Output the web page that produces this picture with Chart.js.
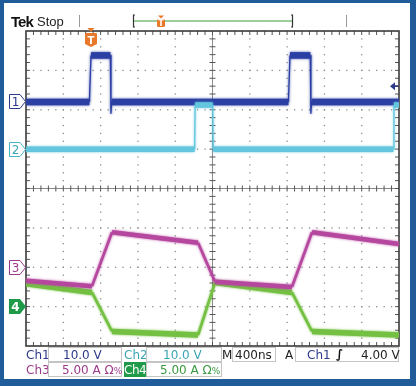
<!DOCTYPE html>
<html>
<head>
<meta charset="utf-8">
<script src="https://cdn.jsdelivr.net/npm/chart.js@4/dist/chart.umd.min.js"></script>
<style>
  html, body { margin: 0; padding: 0; background: #fff; }
  #wrap { position: relative; width: 416px; height: 386px; overflow: hidden; font-family: "DejaVu Sans", sans-serif; }
  #scope { position: absolute; left: 0; top: 0; }
  #frame { position: absolute; left: 0; top: 0; width: 416px; height: 386px; box-sizing: border-box;
           border: solid #1f5c99; border-width: 3px 6px 7px 4px; pointer-events: none; }
  .t { position: absolute; white-space: nowrap; line-height: 1; font-size: 12px; }
  .box { position: absolute; box-sizing: border-box; border: 1px solid #c4c4c4; background: #fff; }
  .mark { position: absolute; left: 9px; }
</style>
</head>
<body>
<div id="wrap">
  <canvas id="scope" width="416" height="386"></canvas>

  <!-- header -->
  <div class="t" style="left:11px;top:13px;font:bold 15px 'Liberation Sans';letter-spacing:-1px;color:#111">Tek</div>
  <div class="t" style="left:37px;top:14px;font:13px 'Liberation Sans';color:#222">Stop</div>
  <svg style="position:absolute;left:0;top:0" width="416" height="30">
    <line x1="79.5" y1="15" x2="79.5" y2="27" stroke="#999" stroke-width="1"/>
    <line x1="346.5" y1="15" x2="346.5" y2="27" stroke="#999" stroke-width="1"/>
    <path d="M135,15 L133.5,15 L133.5,27 L135,27" fill="none" stroke="#333" stroke-width="1.2"/>
    <path d="M291,15 L292.5,15 L292.5,27 L291,27" fill="none" stroke="#333" stroke-width="1.2"/>
    <line x1="134" y1="21" x2="292" y2="21" stroke="#3c9a3c" stroke-width="1.2"/>
    <path d="M158,15.5 L164,15.5 L161,18.5 Z" fill="#e8782a"/>
    <rect x="157" y="19" width="8" height="8" rx="1.5" fill="#e8782a"/>
    <text x="161" y="26" font-size="8" font-weight="bold" fill="#fff" text-anchor="middle" font-family="DejaVu Sans">T</text>
  </svg>

  <!-- trigger position marker on the graticule -->
  <svg id="tmark" style="position:absolute;top:27px" width="14" height="22">
    <path d="M3.5,1 L10.5,1 L7,5 Z" fill="#e8782a"/>
    <path d="M1,6.5 Q1,6 2,6 L12,6 Q13,6 13,7 L13,17 L7,20 L1,17 Z" fill="#e8782a"/>
    <text x="7" y="16.5" font-size="10" font-weight="bold" fill="#fff" text-anchor="middle" font-family="DejaVu Sans">T</text>
  </svg>

  <!-- channel ground markers -->
  <svg class="mark" id="m1" width="18" height="15"><path d="M0.5,0.5 L11,0.5 L16.5,7.5 L11,14.5 L0.5,14.5 Z" fill="#fff" stroke="#2d3a8c"/><text x="6.5" y="12" font-size="12" fill="#2d3a8c" text-anchor="middle" font-family="DejaVu Sans">1</text></svg>
  <svg class="mark" id="m2" width="18" height="15"><path d="M0.5,0.5 L11,0.5 L16.5,7.5 L11,14.5 L0.5,14.5 Z" fill="#fff" stroke="#49b3c6"/><text x="6.5" y="12" font-size="12" fill="#3aa6b5" text-anchor="middle" font-family="DejaVu Sans">2</text></svg>
  <svg class="mark" id="m3" width="18" height="15"><path d="M0.5,0.5 L11,0.5 L16.5,7.5 L11,14.5 L0.5,14.5 Z" fill="#fff" stroke="#9c3a8a"/><text x="6.5" y="12" font-size="12" fill="#9c3a8a" text-anchor="middle" font-family="DejaVu Sans">3</text></svg>
  <svg class="mark" id="m4" width="18" height="15"><path d="M0,0 L11,0 L17,7.5 L11,15 L0,15 Z" fill="#1e9a48"/><text x="6.5" y="12" font-size="12" font-weight="bold" fill="#fff" text-anchor="middle" font-family="DejaVu Sans">4</text></svg>

  <!-- status bar -->
  <div class="t" style="left:26px;top:349px;color:#2d3a8c">Ch1</div>
  <div class="box" style="left:48px;top:347px;width:74px;height:15px"></div>
  <div class="t" style="left:63px;top:349px;color:#2d3a8c">10.0 V</div>
  <div class="t" style="left:124px;top:349px;color:#3aa6b5">Ch2</div>
  <div class="box" style="left:146px;top:347px;width:76px;height:15px"></div>
  <div class="t" style="left:163px;top:349px;color:#3aa6b5">10.0 V</div>
  <div class="t" style="left:222px;top:349px;color:#222">M</div>
  <div class="box" style="left:232px;top:347px;width:44px;height:15px"></div>
  <div class="t" style="left:235px;top:349px;color:#222">400ns</div>
  <div class="t" style="left:285px;top:349px;color:#222">A</div>
  <div class="box" style="left:295px;top:347px;width:104px;height:15px"></div>
  <div class="t" style="left:307px;top:349px;color:#2d3a8c">Ch1</div>
  <div class="t" style="left:336px;top:348px;color:#111;font-weight:bold">∫</div>
  <div class="t" style="left:361px;top:349px;color:#222">4.00 V</div>

  <div class="t" style="left:26px;top:364px;color:#9c3a8a">Ch3</div>
  <div class="box" style="left:48px;top:362px;width:74px;height:15px"></div>
  <div class="t" style="left:62px;top:364px;color:#9c3a8a">5.00 A Ω<span style="font-size:9px">%</span></div>
  <div style="position:absolute;left:124px;top:362px;width:22px;height:15px;background:#1e9a48"></div>
  <div class="t" style="left:124px;top:364px;color:#fff;letter-spacing:-0.5px">Ch4</div>
  <div class="box" style="left:146px;top:362px;width:76px;height:15px"></div>
  <div class="t" style="left:160px;top:364px;color:#3a9a40">5.00 A Ω<span style="font-size:9px">%</span></div>

  <div id="frame"></div>
</div>

<script>
// channel settings (scale per division, ground position in divisions)
const ch1Scale = 10, ch1Pos = 2.2;
const ch2Scale = 10, ch2Pos = 1.0;
const ch3Scale = 5, ch3Pos = -2.0;
const ch4Scale = 5, ch4Pos = -3.0;
const triggerNs = 697;
const triggerLevel = 4.0;

// traces (time in ns, 400 ns/div)
const ch1Time  = [0, 680, 697, 905, 911, 918, 2814, 2831, 3049, 3055, 3062, 4000];
const ch1Volts = [0, 0, 11.8, 11.8, -2.9, 0, 0, 11.8, 11.8, -2.9, 0, 0];

const ch2Time  = [0, 1808, 1814, 2002, 2008, 3940, 3946, 4000];
const ch2Volts = [0, 0, 11.2, 11.2, 0, 0, 11.2, 11.2];

const ch3Time = [0, 708, 922, 1845, 2027, 2852, 3067, 4000];
const ch3Amps = [-1.7, -2.4, 4.45, 3.1, -1.85, -2.5, 4.45, 2.95];

const ch4Time = [0, 708, 922, 1845, 2027, 2852, 3067, 4000];
const ch4Amps = [2.9, 1.8, -3.15, -3.6, 3.05, 1.8, -3.15, -3.6];

function toDiv(times, vals, scale, pos) {
  return times.map((t, i) => ({x: t, y: vals[i] / scale + pos}));
}

function trace(label, data, color, band) {
  return {
    label: label,
    data: data,
    borderColor: color,
    borderWidth: band,
    pointRadius: 0,
    tension: 0,
    fill: false,
    borderJoinStyle: 'round',
    segment: {
      borderWidth: c => {
        const dx = Math.abs(c.p1.x - c.p0.x), dy = Math.abs(c.p1.y - c.p0.y);
        if (dy > dx * 4) return 1.3;
        if (dy > dx * 0.8) return 2.6;
        return band;
      }
    }
  };
}

// scope graticule: dotted divisions, centre cross and edge ticks
const graticule = {
  id: 'graticule',
  beforeDatasetsDraw(chart) {
    const {ctx, chartArea: a} = chart;
    const dx = (a.right - a.left) / 10, dy = (a.bottom - a.top) / 8;
    const cx = a.left + 5 * dx, cy = a.top + 4 * dy;
    ctx.save();
    ctx.fillStyle = '#8d8d8d';
    for (let i = 1; i < 10; i++) {
      if (i == 5) continue;
      const x = a.left + i * dx;
      for (let j = 1; j < 40; j++) ctx.fillRect(x - 0.6, a.top + j * dy / 5 - 0.6, 1.3, 1.3);
    }
    for (let j = 1; j < 8; j++) {
      if (j == 4) continue;
      const y = a.top + j * dy;
      for (let i = 1; i < 50; i++) ctx.fillRect(a.left + i * dx / 5 - 0.6, y - 0.6, 1.3, 1.3);
    }
    ctx.strokeStyle = '#8a8a8a';
    ctx.lineWidth = 1;
    ctx.beginPath();
    ctx.moveTo(a.left, cy); ctx.lineTo(a.right, cy);
    ctx.moveTo(cx, a.top); ctx.lineTo(cx, a.bottom);
    ctx.stroke();
    ctx.strokeStyle = '#555';
    ctx.beginPath();
    for (let i = 1; i < 50; i++) {
      const x = a.left + i * dx / 5;
      ctx.moveTo(x, cy - 3); ctx.lineTo(x, cy + 3);
      ctx.moveTo(x, a.top); ctx.lineTo(x, a.top + 4);
      ctx.moveTo(x, a.bottom); ctx.lineTo(x, a.bottom - 4);
    }
    for (let j = 1; j < 40; j++) {
      const y = a.top + j * dy / 5;
      ctx.moveTo(cx - 3, y); ctx.lineTo(cx + 3, y);
      ctx.moveTo(a.left, y); ctx.lineTo(a.left + 4, y);
      ctx.moveTo(a.right, y); ctx.lineTo(a.right - 4, y);
    }
    ctx.stroke();
    ctx.strokeStyle = '#3a3a3a';
    ctx.lineWidth = 1.6;
    ctx.strokeRect(a.left, a.top, a.right - a.left, a.bottom - a.top);
    ctx.restore();
  },
  // soft fringe round each trace, like the noise band on the screen
  beforeDatasetDraw(chart, args) {
    const ctx = chart.ctx;
    ctx.save();
    ctx.shadowColor = args.meta.dataset.options.borderColor;
    ctx.shadowBlur = 2.5;
  },
  afterDatasetDraw(chart) {
    chart.ctx.restore();
  },
  afterDatasetsDraw(chart) {
    // trigger level arrow on the right edge
    const {ctx, chartArea: a, scales} = chart;
    const y = scales.y.getPixelForValue(triggerLevel / ch1Scale + ch1Pos);
    ctx.save();
    ctx.fillStyle = '#2d3a8c';
    ctx.beginPath();
    ctx.moveTo(a.right - 9, y); ctx.lineTo(a.right - 4, y - 4); ctx.lineTo(a.right - 4, y + 4);
    ctx.closePath(); ctx.fill();
    ctx.fillRect(a.right - 5, y - 0.8, 4, 1.6);
    ctx.restore();
  }
};

const chart = new Chart(document.getElementById('scope'), {
  type: 'line',
  data: {
    datasets: [
      trace('Ch2', toDiv(ch2Time, ch2Volts, ch2Scale, ch2Pos), '#63c6de', 5.5),
      trace('Ch1', toDiv(ch1Time, ch1Volts, ch1Scale, ch1Pos), '#2c3fa2', 6.5),
      trace('Ch3', toDiv(ch3Time, ch3Amps, ch3Scale, ch3Pos), '#b5479f', 4.5),
      trace('Ch4', toDiv(ch4Time, ch4Amps, ch4Scale, ch4Pos), '#74c043', 5.5)
    ]
  },
  options: {
    responsive: false,
    animation: false,
    events: [],
    layout: { padding: { left: 26, top: 31, right: 17, bottom: 40 } },
    scales: {
      x: { type: 'linear', min: 0, max: 4000, display: false },
      y: { type: 'linear', min: -4, max: 4, display: false }
    },
    plugins: { legend: { display: false }, tooltip: { enabled: false } }
  },
  plugins: [graticule]
});

// place the ground markers and trigger marker from the scales
const ys = chart.scales.y, xs = chart.scales.x;
[['m1', ch1Pos], ['m2', ch2Pos], ['m3', ch3Pos], ['m4', ch4Pos]].forEach(([id, pos]) => {
  document.getElementById(id).style.top = (ys.getPixelForValue(pos) - 7.5) + 'px';
});
document.getElementById('tmark').style.left = (xs.getPixelForValue(triggerNs) - 7) + 'px';
</script>
</body>
</html>
